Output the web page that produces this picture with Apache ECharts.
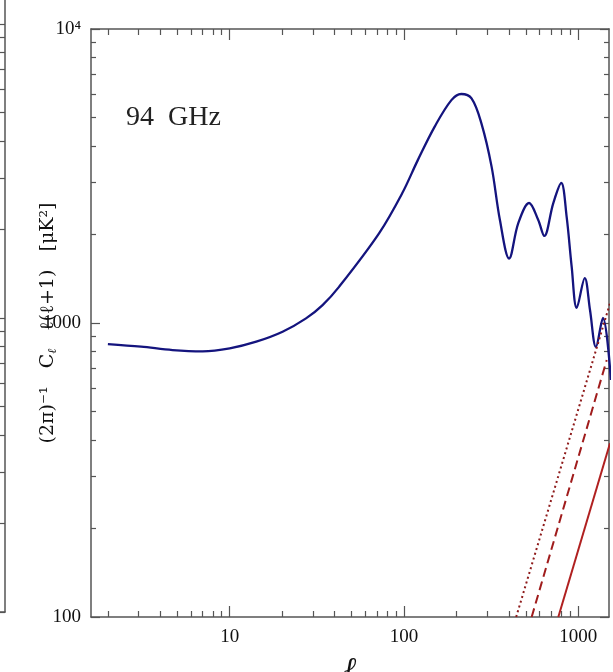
<!DOCTYPE html>
<html>
<head>
<meta charset="utf-8">
<title>94 GHz</title>
<script src="https://cdn.jsdelivr.net/npm/echarts@6/dist/echarts.min.js"></script>
<style>
  html, body { margin: 0; padding: 0; background: #fff; }
  #chart { width: 613px; height: 672px; }
</style>
</head>
<body>
<div id="chart"></div>
<script>
// CMB spectrum (blue)
var cmbL = [2.0, 3.1, 4.7, 7.0, 10, 14.2, 20.1, 27.4, 34.1, 42.5, 71.9, 97.6, 120, 150, 187, 213, 244, 278, 318, 355, 401, 452, 522, 589, 638, 718, 798, 857, 916, 979, 1089, 1167, 1262, 1384, 1538];
var cmbV = [848, 831, 809, 801, 820, 864, 934, 1037, 1151, 1330, 2018, 2761, 3581, 4656, 5730, 6010, 5808, 4775, 3403, 2240, 1657, 2183, 2560, 2240, 1977, 2553, 2993, 2300, 1555, 1125, 1422, 1107, 829, 1040, 640];

// foreground lines (red)
var dotL = [440, 1520];
var dotV = [100, 1167];
var dashL = [540, 1455];
var dashV = [100, 748];
var solidL = [768, 1520];
var solidV = [100, 390];

// tick values
var xMajor = [10, 100, 1000];
var xMinor = [2, 3, 4, 5, 6, 7, 8, 9, 20, 30, 40, 50, 60, 70, 80, 90, 200, 300, 400, 500, 600, 700, 800, 900];
var yMajor = [100, 1000, 10000];
var yMinor = [200, 300, 400, 500, 600, 700, 800, 900, 2000, 3000, 4000, 5000, 6000, 7000, 8000, 9000, 20000];

var axisColor = '#555';
var serif = '"Liberation Serif", "DejaVu Serif", serif';
var wideSerif = '"DejaVu Serif", serif';

function pairs(xs, ys) {
    var out = [];
    for (var i = 0; i < xs.length; i++) out.push([xs[i], ys[i]]);
    return out;
}

function logX(opts) {
    var ax = {
        type: 'log', gridIndex: 0, min: 1.6, max: 1500,
        position: opts.position,
        axisLine: { show: opts.line, lineStyle: { color: axisColor, width: 1.5 } },
        axisTick: { show: true, inside: true, length: opts.len, customValues: opts.ticks,
                    lineStyle: { color: axisColor, width: 1.2 } },
        axisLabel: { show: false },
        splitLine: { show: false }
    };
    if (opts.labels) {
        ax.axisLabel = { show: true, customValues: xMajor, margin: 11,
                         fontFamily: serif, fontSize: 19, color: '#111',
                         formatter: function (v) { return String(v); } };
        ax.name = '\u2113';
        ax.nameLocation = 'middle';
        ax.nameGap = 38;
        ax.nameMoveOverlap = false;
        ax.nameTextStyle = { fontFamily: serif, fontStyle: 'italic', fontSize: 30, color: '#111' };
    }
    return ax;
}

function logY(opts) {
    var ax = {
        type: 'log', gridIndex: 0, min: 100, max: 10000,
        position: opts.position,
        axisLine: { show: opts.line, lineStyle: { color: axisColor, width: 1.5 } },
        axisTick: { show: true, inside: true, length: opts.len, customValues: opts.ticks,
                    lineStyle: { color: axisColor, width: 1.2 } },
        axisLabel: { show: false },
        splitLine: { show: false }
    };
    if (opts.labels) {
        ax.axisLabel = {
            show: true, customValues: yMajor, margin: 10,
            fontFamily: serif, fontSize: 19, color: '#111',
            formatter: function (v) { return v >= 10000 ? '10\u2074' : String(v); }
        };
        ax.name = '(2\u03C0)\u207B\u00B9   C{sub|\u2113}   \u2113(\u2113+1)   [\u03BCK\u00B2]';
        ax.nameLocation = 'middle';
        ax.nameGap = 32;
        ax.nameRotate = 90;
        ax.nameMoveOverlap = false;
        ax.nameTextStyle = {
            fontFamily: wideSerif, fontSize: 19, lineHeight: 22, color: '#111',
            rich: {
                sub: { fontFamily: wideSerif, fontStyle: 'italic', fontSize: 12, lineHeight: 13, color: '#111', verticalAlign: 'bottom' }
            }
        };
    }
    return ax;
}

var chart = echarts.init(document.getElementById('chart'), null, { renderer: 'canvas' });

var option = {
    backgroundColor: '#fff',
    animation: false,
    grid: [
        { left: 91, top: 29, right: 4, bottom: 55, outerBoundsMode: 'none' },
        // edge of the neighbouring panel, cut off at the left
        { left: -40, right: 608, top: -116, bottom: 60, outerBoundsMode: 'none' }
    ],
    xAxis: [
        logX({ position: 'bottom', line: true, len: 11, ticks: xMajor, labels: true }),
        logX({ position: 'bottom', line: false, len: 6, ticks: xMinor }),
        logX({ position: 'top', line: true, len: 11, ticks: xMajor }),
        logX({ position: 'top', line: false, len: 6, ticks: xMinor }),
        {
            type: 'log', gridIndex: 1, min: 1000, max: 1500, position: 'bottom',
            axisLine: { show: true, lineStyle: { color: axisColor, width: 1.5 } },
            axisTick: { show: false }, axisLabel: { show: false }, splitLine: { show: false }
        }
    ],
    yAxis: [
        logY({ position: 'left', line: true, len: 9, ticks: yMajor, labels: true }),
        logY({ position: 'left', line: false, len: 5, ticks: yMinor }),
        logY({ position: 'right', line: true, len: 9, ticks: yMajor }),
        logY({ position: 'right', line: false, len: 5, ticks: yMinor }),
        {
            type: 'log', gridIndex: 1, min: 100, max: 30000, position: 'right',
            axisLine: { show: true, lineStyle: { color: axisColor, width: 1.5 } },
            axisTick: { show: true, inside: true, length: 6, customValues: yMajor.concat(yMinor),
                        lineStyle: { color: axisColor, width: 1.2 } },
            axisLabel: { show: false }, splitLine: { show: false }
        }
    ],
    graphic: [{
        type: 'text', left: 126, top: 104,
        style: { text: '94  GHz', fontFamily: serif, fontSize: 28, fill: '#222' }
    }],
    series: [
        {
            name: 'CMB', type: 'line', xAxisIndex: 0, yAxisIndex: 0,
            data: pairs(cmbL, cmbV), smooth: 0.35, showSymbol: false, clip: true,
            lineStyle: { color: '#14147e', width: 2.3 }
        },
        {
            name: 'dotted', type: 'line', xAxisIndex: 0, yAxisIndex: 0,
            data: pairs(dotL, dotV), showSymbol: false, clip: true,
            lineStyle: { color: '#8e1a1a', width: 2, type: [2, 3] }
        },
        {
            name: 'dashed', type: 'line', xAxisIndex: 0, yAxisIndex: 0,
            data: pairs(dashL, dashV), showSymbol: false, clip: true,
            lineStyle: { color: '#a01c1c', width: 2, type: [9, 5] }
        },
        {
            name: 'solid', type: 'line', xAxisIndex: 0, yAxisIndex: 0,
            data: pairs(solidL, solidV), showSymbol: false, clip: true,
            lineStyle: { color: '#b02020', width: 2 }
        }
    ]
};

chart.setOption(option);
</script>
</body>
</html>
